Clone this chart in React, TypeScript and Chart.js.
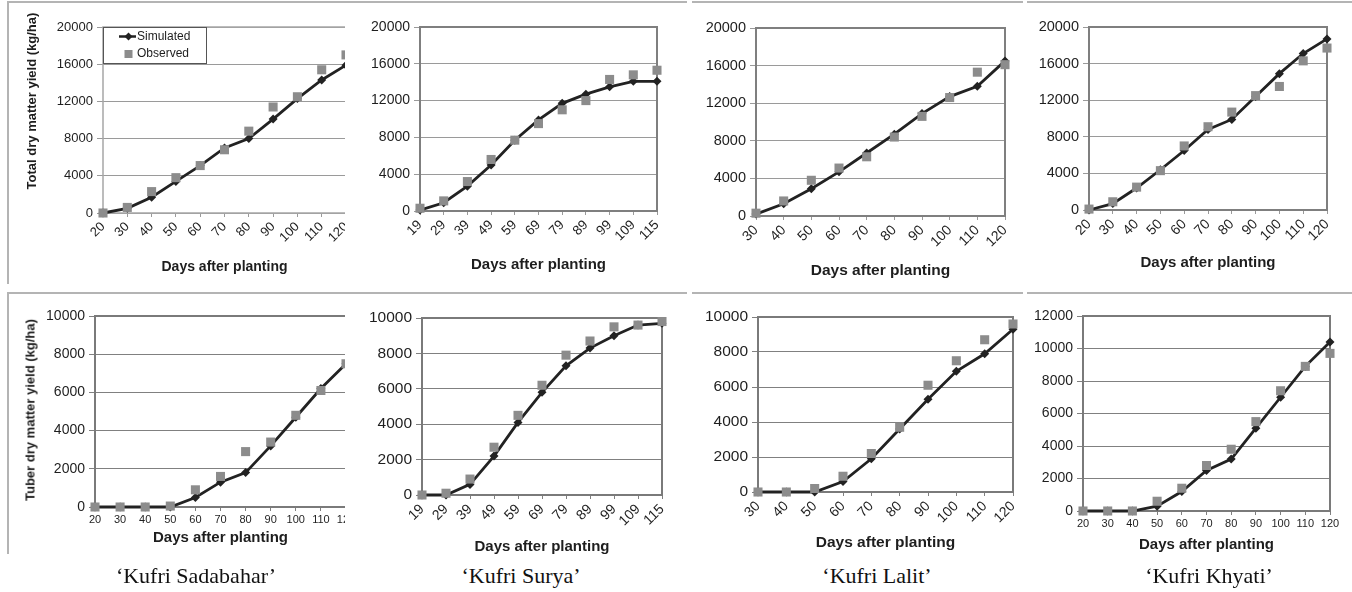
import React, { useEffect, useRef } from "react";
import { Chart, registerables } from "chart.js";

Chart.register(...registerables);

const FONT = '"Liberation Sans", Arial, Helvetica, sans-serif';
const TEXT = "#1e1e1e";
const SIM_COLOR = "#222222";
const OBS_COLOR = "#8c8c8c";

// ---------- Data ----------
const daysSadabahar = ["20", "30", "40", "50", "60", "70", "80", "90", "100", "110", "120"];
const daysSurya = ["19", "29", "39", "49", "59", "69", "79", "89", "99", "109", "115"];
const daysLalit = ["30", "40", "50", "60", "70", "80", "90", "100", "110", "120"];
const daysKhyati = ["20", "30", "40", "50", "60", "70", "80", "90", "100", "110", "120"];

const totalSimSadabahar = [0, 500, 1700, 3400, 5100, 7000, 8000, 10100, 12300, 14300, 15900];
const totalObsSadabahar = [0, 600, 2300, 3800, 5100, 6800, 8800, 11400, 12500, 15400, 17000];
const totalSimSurya = [100, 900, 2700, 5000, 7700, 9900, 11700, 12700, 13500, 14100, 14100];
const totalObsSurya = [300, 1100, 3200, 5600, 7700, 9500, 11000, 12000, 14300, 14800, 15300];
const totalSimLalit = [200, 1300, 2900, 4700, 6700, 8700, 10900, 12700, 13800, 16500];
const totalObsLalit = [300, 1600, 3800, 5100, 6300, 8400, 10600, 12600, 15300, 16100];
const totalSimKhyati = [0, 700, 2400, 4400, 6500, 8800, 9900, 12400, 14900, 17100, 18700];
const totalObsKhyati = [100, 900, 2500, 4300, 7000, 9100, 10700, 12500, 13500, 16300, 17700];

const tuberSimSadabahar = [0, 0, 0, 0, 500, 1300, 1800, 3200, 4700, 6200, 7500];
const tuberObsSadabahar = [0, 0, 0, 50, 900, 1600, 2900, 3400, 4800, 6100, 7500];
const tuberSimSurya = [0, 0, 600, 2200, 4100, 5800, 7300, 8300, 9000, 9600, 9700];
const tuberObsSurya = [0, 100, 900, 2700, 4500, 6200, 7900, 8700, 9500, 9600, 9800];
const tuberSimLalit = [0, 0, 0, 600, 1900, 3600, 5300, 6900, 7900, 9300];
const tuberObsLalit = [0, 0, 200, 900, 2200, 3700, 6100, 7500, 8700, 9600];
const tuberSimKhyati = [0, 0, 0, 300, 1200, 2500, 3200, 5100, 7000, 8900, 10400];
const tuberObsKhyati = [0, 0, 0, 600, 1400, 2800, 3800, 5500, 7400, 8900, 9700];

const totalMax = 20000;
const totalStep = 4000;
const tuberMax = 10000;
const tuberMaxKhyati = 12000;
const tuberStep = 2000;

const xTitle = "Days after planting";
const yTitleTotal = "Total dry matter yield (kg/ha)";
const yTitleTuber = "Tuber dry matter yield (kg/ha)";
const cultivars = ["\u2018Kufri Sadabahar\u2019", "\u2018Kufri Surya\u2019", "\u2018Kufri Lalit\u2019", "\u2018Kufri Khyati\u2019"];

// ---------- Layout ----------
type PanelCfg = {
  labels: string[];
  sim: number[];
  obs: number[];
  max: number;
  step: number;
  L: number; T: number; R: number; B: number;
  titleY: number;
  rotate: boolean;
  yTickFont: number;
  xTickFont: number;
  titleFont: number;
  gridColor: string;
  frameColor: string;
  frameWidth: number;
  legend?: boolean;
  clipRight?: number;
};

const panels: PanelCfg[] = [
  { labels: daysSadabahar, sim: totalSimSadabahar, obs: totalObsSadabahar, max: totalMax, step: totalStep,
    L: 103, T: 27, R: 346, B: 213, titleY: 267, rotate: true, yTickFont: 13, xTickFont: 13, titleFont: 14,
    gridColor: "#9a9a9a", frameColor: "#a6a6a6", frameWidth: 1.5, legend: true, clipRight: 345 },
  { labels: daysSurya, sim: totalSimSurya, obs: totalObsSurya, max: totalMax, step: totalStep,
    L: 420, T: 27, R: 657, B: 211, titleY: 265, rotate: true, yTickFont: 14, xTickFont: 13.5, titleFont: 15,
    gridColor: "#9a9a9a", frameColor: "#7f7f7f", frameWidth: 2 },
  { labels: daysLalit, sim: totalSimLalit, obs: totalObsLalit, max: totalMax, step: totalStep,
    L: 756, T: 28, R: 1005, B: 216, titleY: 271, rotate: true, yTickFont: 14.5, xTickFont: 14, titleFont: 15.5,
    gridColor: "#9a9a9a", frameColor: "#7f7f7f", frameWidth: 2 },
  { labels: daysKhyati, sim: totalSimKhyati, obs: totalObsKhyati, max: totalMax, step: totalStep,
    L: 1089, T: 27, R: 1327, B: 210, titleY: 263, rotate: true, yTickFont: 14.5, xTickFont: 14, titleFont: 15,
    gridColor: "#9a9a9a", frameColor: "#7f7f7f", frameWidth: 2 },
  { labels: daysSadabahar, sim: tuberSimSadabahar, obs: tuberObsSadabahar, max: tuberMax, step: tuberStep,
    L: 95, T: 316, R: 346, B: 507, titleY: 538, rotate: false, yTickFont: 14, xTickFont: 11, titleFont: 15,
    gridColor: "#808080", frameColor: "#7a7a7a", frameWidth: 2, clipRight: 345 },
  { labels: daysSurya, sim: tuberSimSurya, obs: tuberObsSurya, max: tuberMax, step: tuberStep,
    L: 422, T: 318, R: 662, B: 495, titleY: 547, rotate: true, yTickFont: 15.5, xTickFont: 14, titleFont: 15,
    gridColor: "#808080", frameColor: "#7a7a7a", frameWidth: 2 },
  { labels: daysLalit, sim: tuberSimLalit, obs: tuberObsLalit, max: tuberMax, step: tuberStep,
    L: 758, T: 317, R: 1013, B: 492, titleY: 543, rotate: true, yTickFont: 15.5, xTickFont: 14, titleFont: 15.5,
    gridColor: "#808080", frameColor: "#7a7a7a", frameWidth: 2 },
  { labels: daysKhyati, sim: tuberSimKhyati, obs: tuberObsKhyati, max: tuberMaxKhyati, step: tuberStep,
    L: 1083, T: 316, R: 1330, B: 511, titleY: 545, rotate: false, yTickFont: 14, xTickFont: 11, titleFont: 15,
    gridColor: "#808080", frameColor: "#7a7a7a", frameWidth: 2 },
];

function makeFrame(color: string, width: number) {
  return {
    id: "plotFrame",
    beforeDatasetsDraw(chart: any) {
      const { ctx, chartArea: a } = chart;
      ctx.save();
      ctx.strokeStyle = color;
      ctx.lineWidth = width;
      ctx.strokeRect(a.left, a.top, a.right - a.left, a.bottom - a.top);
      ctx.restore();
    },
  };
}

const boxLegend = {
  id: "boxLegend",
  afterDatasetsDraw(chart: any) {
    const { ctx, chartArea: a } = chart;
    const sim = chart.data.datasets[0];
    const obs = chart.data.datasets[1];
    const x0 = a.left;
    const y0 = a.top;
    const w = 103;
    const h = 36;
    ctx.save();
    ctx.fillStyle = "#ffffff";
    ctx.fillRect(x0, y0, w, h);
    ctx.strokeStyle = "#555555";
    ctx.lineWidth = 1;
    ctx.strokeRect(x0 + 0.5, y0 + 0.5, w, h);
    // Simulated sample
    const ys = y0 + 9.5;
    ctx.strokeStyle = sim.borderColor;
    ctx.lineWidth = 2.5;
    ctx.beginPath();
    ctx.moveTo(x0 + 16, ys);
    ctx.lineTo(x0 + 33, ys);
    ctx.stroke();
    ctx.fillStyle = sim.backgroundColor;
    ctx.beginPath();
    const cx = x0 + 25.5;
    const r = 4;
    ctx.moveTo(cx - r, ys);
    ctx.lineTo(cx, ys - r);
    ctx.lineTo(cx + r, ys);
    ctx.lineTo(cx, ys + r);
    ctx.closePath();
    ctx.fill();
    // Observed sample
    const yo = y0 + 27;
    ctx.fillStyle = obs.backgroundColor;
    ctx.fillRect(x0 + 21.5, yo - 4, 8, 8);
    // Texts
    ctx.fillStyle = TEXT;
    ctx.font = `12px ${FONT}`;
    ctx.textBaseline = "middle";
    ctx.textAlign = "left";
    ctx.fillText(sim.label, x0 + 34, ys);
    ctx.fillText(obs.label, x0 + 34, yo);
    ctx.restore();
  },
};

function ChartPanel({ p }: { p: PanelCfg }) {
  const ref = useRef<HTMLCanvasElement | null>(null);
  const lhT = p.titleFont * 1.2;
  const cl = p.L - 75;
  const ct = p.T - 22;
  const cr = p.R + 18;
  const cb = p.titleY + lhT / 2 + 2;
  const W = Math.round(cr - cl);
  const H = Math.round(cb - ct);

  useEffect(() => {
    const padTop = p.T - ct;
    const padRight = cl + W - p.R;
    const yW = p.L - cl;
    const xH = ct + H - p.B;
    const titlePadBottom = ct + H - p.titleY - lhT / 2;
    const plugins: any[] = [makeFrame(p.frameColor, p.frameWidth)];
    if (p.legend) plugins.push(boxLegend);
    const chart = new Chart(ref.current as HTMLCanvasElement, {
      type: "line",
      data: {
        labels: p.labels,
        datasets: [
          {
            label: "Simulated",
            data: p.sim,
            order: 2,
            borderColor: SIM_COLOR,
            backgroundColor: SIM_COLOR,
            borderWidth: 2.8,
            pointStyle: "rectRot",
            pointRadius: 4.5,
            pointHoverRadius: 4.5,
            pointBorderWidth: 0,
            tension: 0,
            clip: false as any,
          },
          {
            label: "Observed",
            data: p.obs,
            order: 1,
            showLine: false,
            borderColor: OBS_COLOR,
            backgroundColor: OBS_COLOR,
            pointStyle: "rect",
            pointRadius: 6.4,
            pointHoverRadius: 6.4,
            pointBorderWidth: 0,
            clip: false as any,
          },
        ],
      },
      options: {
        responsive: false,
        animation: false,
        devicePixelRatio: 1,
        layout: { padding: { left: 0, top: padTop, right: padRight, bottom: 0 } },
        plugins: { legend: { display: false }, tooltip: { enabled: false } },
        scales: {
          x: {
            type: "category",
            offset: false,
            grid: { drawOnChartArea: false, color: p.gridColor, tickLength: 4 },
            border: { display: false },
            ticks: {
              autoSkip: false,
              minRotation: p.rotate ? 45 : 0,
              maxRotation: p.rotate ? 45 : 0,
              padding: 2,
              color: TEXT,
              font: { size: p.xTickFont, family: FONT },
            },
            title: {
              display: true,
              text: xTitle,
              color: TEXT,
              font: { size: p.titleFont, weight: "bold", family: FONT },
              padding: { top: 0, bottom: titlePadBottom },
            },
            afterFit: (s: any) => {
              s.height = xH;
            },
          },
          y: {
            min: 0,
            max: p.max,
            grid: { color: p.gridColor, lineWidth: 1, tickLength: 6 },
            border: { display: false },
            ticks: {
              stepSize: p.step,
              padding: 4,
              color: TEXT,
              font: { size: p.yTickFont, family: FONT },
              callback: (v: any) => String(v),
            },
            afterFit: (s: any) => {
              s.width = yW;
            },
          },
        },
      } as any,
      plugins,
    });
    return () => chart.destroy();
  }, []);

  const canvas = (
    <canvas
      ref={ref}
      width={W}
      height={H}
      style={{ position: "absolute", left: cl, top: ct, width: W, height: H }}
    />
  );
  if (p.clipRight) {
    return (
      <div style={{ position: "absolute", left: 0, top: 0, width: p.clipRight, height: 592, overflow: "hidden" }}>
        {canvas}
      </div>
    );
  }
  return canvas;
}

const lineColor = "#b4b4b4";
const hLines = [
  { x1: 8, x2: 687, y: 1 }, { x1: 692, x2: 1023, y: 1 }, { x1: 1027, x2: 1352, y: 1 },
  { x1: 8, x2: 687, y: 292 }, { x1: 692, x2: 1023, y: 292 }, { x1: 1027, x2: 1352, y: 292 },
];
const vLines = [
  { x: 7, y1: 1, y2: 284 },
  { x: 7, y1: 292, y2: 554 },
];

const captionX = [196, 521, 877, 1209];

export default function App() {
  return (
    <div
      style={{
        position: "absolute",
        left: 0,
        top: 0,
        width: 1352,
        height: 592,
        background: "#ffffff",
        overflow: "hidden",
      }}
    >
      {hLines.map((l, i) => (
        <div key={"h" + i} style={{ position: "absolute", left: l.x1, top: l.y, width: l.x2 - l.x1, height: 2, background: lineColor }} />
      ))}
      {vLines.map((l, i) => (
        <div key={"v" + i} style={{ position: "absolute", left: l.x, top: l.y1, width: 2, height: l.y2 - l.y1, background: lineColor }} />
      ))}
      {panels.map((p, i) => (
        <ChartPanel key={i} p={p} />
      ))}
      <div
        style={{
          position: "absolute", left: 31, top: 101, transform: "translate(-50%, -50%) rotate(-90deg)",
          whiteSpace: "nowrap", font: `bold 13px ${FONT}`, color: TEXT,
        }}
      >
        {yTitleTotal}
      </div>
      <div
        style={{
          position: "absolute", left: 30, top: 410, transform: "translate(-50%, -50%) rotate(-90deg)",
          whiteSpace: "nowrap", font: `bold 13px ${FONT}`, color: TEXT,
        }}
      >
        {yTitleTuber}
      </div>
      {cultivars.map((c, i) => (
        <div
          key={"c" + i}
          style={{
            position: "absolute", left: captionX[i], top: 576, transform: "translate(-50%, -50%)",
            whiteSpace: "nowrap", font: `22px "Liberation Serif", "Times New Roman", serif`, color: "#111",
          }}
        >
          {c}
        </div>
      ))}
    </div>
  );
}
